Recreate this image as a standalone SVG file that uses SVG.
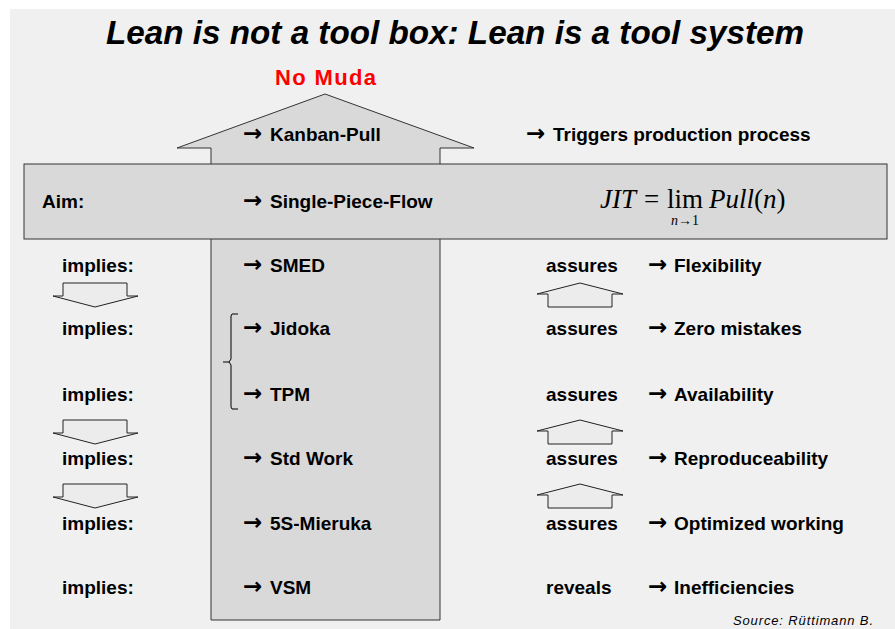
<svg xmlns="http://www.w3.org/2000/svg" width="895" height="629" viewBox="0 0 895 629">
<style>
.t{font-family:"Liberation Sans",Arial,sans-serif;font-weight:bold;font-size:19px;fill:#000}
.ar{font-family:"DejaVu Sans",sans-serif;font-weight:bold;font-size:23px}
.big{fill:#d9d9d9;stroke:#333;stroke-width:1}
.sm{fill:#ececec;stroke:#222;stroke-width:1}
.m{font-family:"Liberation Serif","Times New Roman",serif;fill:#000}
</style>
<rect x="0" y="0" width="895" height="629" fill="#fff"/>
<rect x="10" y="9" width="885" height="620" fill="#f0f0f0"/>
<g id="title"><text x="455" y="44" text-anchor="middle" font-family="Liberation Sans,Arial,sans-serif" font-weight="bold" font-style="italic" font-size="33" textLength="698" lengthAdjust="spacingAndGlyphs">Lean is not a tool box: Lean is a tool system</text></g>
<g id="nomuda"><text x="275" y="85" font-family="Liberation Sans,Arial,sans-serif" font-weight="bold" font-size="22" fill="#ff0000" textLength="101" lengthAdjust="spacing">No  Muda</text></g>
<g id="bigarrow"><path class="big" d="M325,94 L474,148 L440,148 L440,620 L211,620 L211,148 L177,148 Z"/></g>
<g id="bar"><rect class="big" x="24" y="164" width="863" height="75" stroke="#111"/></g>
<g id="tools">
<text class="t" y="141"><tspan class="ar" x="243">→</tspan><tspan x="270">Kanban-Pull</tspan></text>
<text class="t" y="208"><tspan class="ar" x="243">→</tspan><tspan x="270">Single-Piece-Flow</tspan></text>
<text class="t" y="272"><tspan class="ar" x="243">→</tspan><tspan x="270">SMED</tspan></text>
<text class="t" y="335"><tspan class="ar" x="243">→</tspan><tspan x="270">Jidoka</tspan></text>
<text class="t" y="401"><tspan class="ar" x="243">→</tspan><tspan x="270">TPM</tspan></text>
<text class="t" y="465"><tspan class="ar" x="243">→</tspan><tspan x="270">Std Work</tspan></text>
<text class="t" y="530"><tspan class="ar" x="243">→</tspan><tspan x="270">5S-Mieruka</tspan></text>
<text class="t" y="594"><tspan class="ar" x="243">→</tspan><tspan x="270">VSM</tspan></text>
</g>
<g id="bracket"><path d="M238,314 L232,314 L231,316 L231,359 L229,362 L223,362 M229,362 L231,365 L231,407 L232,409 L238,409" fill="none" stroke="#000" stroke-width="1"/></g>
<g id="left">
<text class="t" x="42" y="208">Aim:</text>
<text class="t" x="62" y="272">implies:</text>
<text class="t" x="62" y="335">implies:</text>
<text class="t" x="62" y="401">implies:</text>
<text class="t" x="62" y="465">implies:</text>
<text class="t" x="62" y="530">implies:</text>
<text class="t" x="62" y="594">implies:</text>
</g>
<g id="downarrows">
<path class="sm" d="M63,283 L127,283 L127,296 L138,296 L95,307 L53,296 L63,296 Z"/>
<path class="sm" d="M63,420 L127,420 L127,433 L138,433 L95,444 L53,433 L63,433 Z"/>
<path class="sm" d="M63,484 L127,484 L127,497 L138,497 L95,508 L53,497 L63,497 Z"/>
</g>
<g id="uparrows">
<path class="sm" d="M580,283 L623,294 L612,294 L612,307 L548,307 L548,294 L537,294 Z"/>
<path class="sm" d="M580,420 L623,431 L612,431 L612,444 L548,444 L548,431 L537,431 Z"/>
<path class="sm" d="M580,484 L623,495 L612,495 L612,508 L548,508 L548,495 L537,495 Z"/>
</g>
<g id="right">
<text class="t" y="141"><tspan class="ar" x="526">→</tspan><tspan x="553">Triggers production process</tspan></text>
<text class="t" y="272"><tspan x="546">assures</tspan><tspan class="ar" x="648">→</tspan><tspan x="674">Flexibility</tspan></text>
<text class="t" y="335"><tspan x="546">assures</tspan><tspan class="ar" x="648">→</tspan><tspan x="674">Zero mistakes</tspan></text>
<text class="t" y="401"><tspan x="546">assures</tspan><tspan class="ar" x="648">→</tspan><tspan x="674">Availability</tspan></text>
<text class="t" y="465"><tspan x="546">assures</tspan><tspan class="ar" x="648">→</tspan><tspan x="674">Reproduceability</tspan></text>
<text class="t" y="530"><tspan x="546">assures</tspan><tspan class="ar" x="648">→</tspan><tspan x="674">Optimized working</tspan></text>
<text class="t" y="594"><tspan x="546">reveals</tspan><tspan class="ar" x="648">→</tspan><tspan x="674">Inefficiencies</tspan></text>
</g>
<g id="formula">
<text class="m" y="208" font-size="27"><tspan x="600" font-style="italic">JIT</tspan><tspan x="644">=</tspan><tspan x="667">lim</tspan><tspan x="709" font-style="italic">Pull</tspan><tspan>(</tspan><tspan font-style="italic">n</tspan><tspan>)</tspan></text>
<text class="m" x="671" y="225" font-size="14"><tspan font-style="italic">n</tspan>→1</text>
</g>
<g id="source"><text x="733" y="625" font-family="Liberation Sans,Arial,sans-serif" font-style="italic" font-size="13" textLength="140">Source: Rüttimann B.</text></g>
</svg>
